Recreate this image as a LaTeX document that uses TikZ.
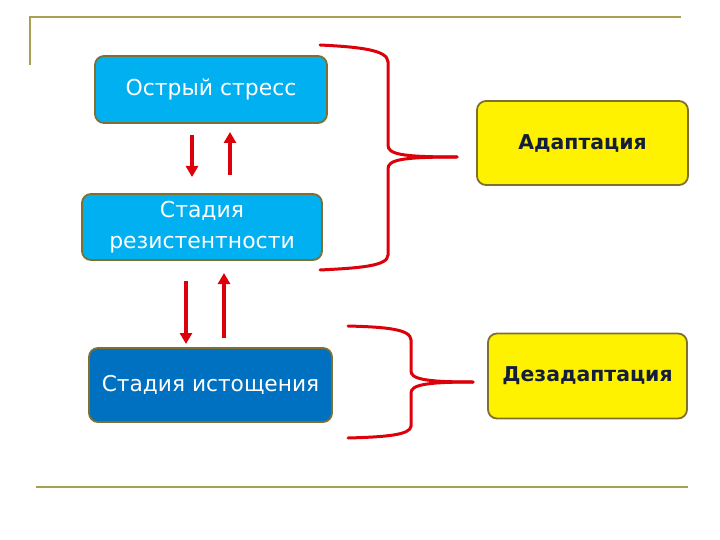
\documentclass[tikz,border=0pt]{standalone}
\usepackage{fontspec}
\setmainfont{DejaVu Sans}
\usetikzlibrary{arrows.meta}
\definecolor{lblue}{RGB}{0,176,240}
\definecolor{dblue}{RGB}{0,112,192}
\definecolor{olive}{RGB}{128,112,48}
\definecolor{rule}{RGB}{168,160,80}
\definecolor{redl}{RGB}{220,0,10}
\definecolor{navy}{RGB}{20,30,60}
\tikzset{
  box/.style={rectangle, rounded corners=9bp, draw=olive, line width=1.8bp, align=center, inner sep=0pt},
  bluebox/.style={box, fill=lblue, text=white, font=\fontsize{22}{31}\selectfont},
  darkbox/.style={box, fill=dblue, text=white, font=\fontsize{21.8}{31}\selectfont},
  yelbox/.style={box, fill=yellow, text=navy, font=\fontsize{20.5}{24}\selectfont\bfseries},
  arr/.style={draw=redl, line width=3.4bp, -{Triangle[length=11bp,width=12bp]}},
  brace/.style={draw=redl, line width=3bp, line cap=round},
  frame/.style={draw=rule, line width=2.6bp}
}
\begin{document}
\begin{tikzpicture}[x=1bp,y=-1bp]
\useasboundingbox (0,0) rectangle (720,540);
% frame lines
\coordinate (t0) at (30,65);
\coordinate (t1) at (30,17);
\coordinate (t2) at (681,17);
\coordinate (b1) at (36,487);
\coordinate (b2) at (688,487);
\draw[frame] (t0) -- (t1) -- (t2);
\draw[frame] (b1) -- (b2);
% boxes
\node[bluebox, minimum width=232bp, minimum height=67bp] (s1) at (211,89.5) {Острый стресс};
\node[bluebox, minimum width=240bp, minimum height=66bp] (s2) at (202,227) {Стадия\\резистентности};
\node[darkbox, minimum width=243bp, minimum height=74bp] (s3) at (210.5,385) {Стадия истощения};
\node[yelbox, minimum width=211bp, minimum height=84bp] (a1) at (582.5,143) {Адаптация};
\node[yelbox, minimum width=199bp, minimum height=85bp] (a2) at (587.5,376) {Дезадаптация};
% vertical arrows
\coordinate (d1s) at (192,135);
\coordinate (d1e) at (192,177);
\coordinate (u1s) at (230,175);
\coordinate (u1e) at (230,132);
\coordinate (d2s) at (186,281);
\coordinate (d2e) at (186,344);
\coordinate (u2s) at (224,338);
\coordinate (u2e) at (224,273);
\draw[arr] (d1s) -- (d1e);
\draw[arr] (u1s) -- (u1e);
\draw[arr] (d2s) -- (d2e);
\draw[arr] (u2s) -- (u2e);
% brace 1
\coordinate (br1tip) at (457,157);
\draw[brace] (320,45) .. controls (360,47) and (388,50) .. (388,62)
  -- (388,145) .. controls (388,154) and (400,157) .. (br1tip);
\draw[brace] (br1tip) .. controls (400,157) and (388,160) .. (388,169)
  -- (388,255) .. controls (388,266) and (360,268) .. (320,270);
% brace 2
\coordinate (br2tip) at (473,382);
\draw[brace] (348,326) .. controls (385,327) and (411,329) .. (411,340)
  -- (411,371) .. controls (411,379) and (425,382) .. (br2tip);
\draw[brace] (br2tip) .. controls (425,382) and (411,385) .. (411,393)
  -- (411,426) .. controls (411,435) and (385,437) .. (348,438);
\end{tikzpicture}
\end{document}
